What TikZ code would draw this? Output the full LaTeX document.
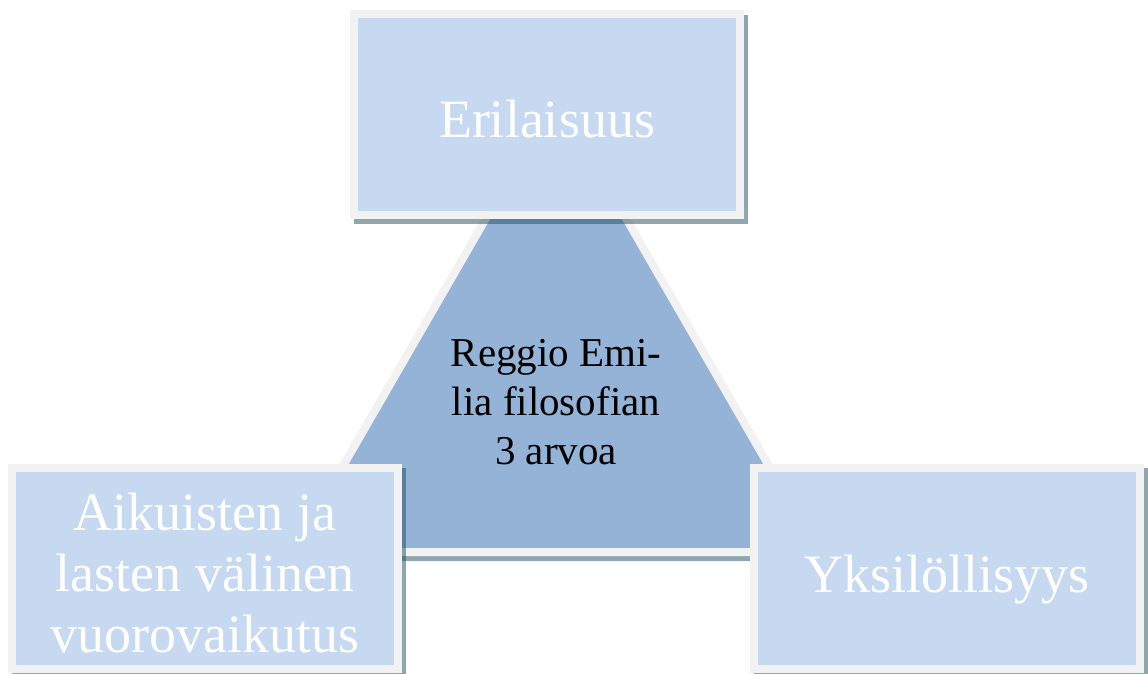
\documentclass[tikz,border=0pt]{standalone}
\usepackage{fontspec}
\setmainfont{Liberation Serif}
\definecolor{boxblue}{HTML}{C6D9F0}
\definecolor{triblue}{HTML}{95B3D7}
\definecolor{bordergray}{HTML}{F2F2F2}
\definecolor{shadowc}{HTML}{1F4E5F}
\tikzset{
  boxstyle/.style={draw=bordergray, line width=8pt, fill=boxblue, minimum width=386pt, minimum height=201pt, inner sep=0pt},
  tristyle/.style={draw=bordergray, line width=8pt, fill=triblue, line join=miter},
  shadowstyle/.style={fill=shadowc, fill opacity=0.5, draw=none},
  bigtext/.style={text=white, align=center, inner sep=0pt, font=\fontsize{54}{61}\selectfont},
  midtext/.style={text=black, align=center, inner sep=0pt, font=\fontsize{41}{49}\selectfont}
}
\begin{document}
\begin{tikzpicture}[x=1pt,y=-1pt]
\useasboundingbox (0,0) rectangle (1148,674);
% triangle shadow and triangle
\fill[shadowstyle] (556,94) -- (286.4,561) -- (825.6,561) -- cycle;
\coordinate (tA) at (556,97);
\coordinate (tB) at (293.3,552);
\coordinate (tC) at (818.7,552);
\draw[tristyle] (tA) -- (tB) -- (tC) -- cycle;
\node[midtext] (centre) at (556,402) {Reggio Emi-\\lia filosofian\\3 arvoa};
% box shadows
\fill[shadowstyle] (353.5,15) rectangle (747.5,224);
\fill[shadowstyle] (11.5,468) rectangle (405.5,679);
\fill[shadowstyle] (753.5,468) rectangle (1147.5,679);
% boxes
\node[boxstyle] (top) at (547,114.5) {};
\node[boxstyle] (left) at (205,568) {};
\node[boxstyle] (right) at (947,568) {};
% texts
\node[bigtext] (toptext) at (547,119.5) {Erilaisuus};
\node[bigtext] (lefttext) at (205,573.5) {Aikuisten ja\\lasten välinen\\vuorovaikutus};
\node[bigtext] (righttext) at (947,579.5) {Yksilöllisyys};
\end{tikzpicture}
\end{document}
